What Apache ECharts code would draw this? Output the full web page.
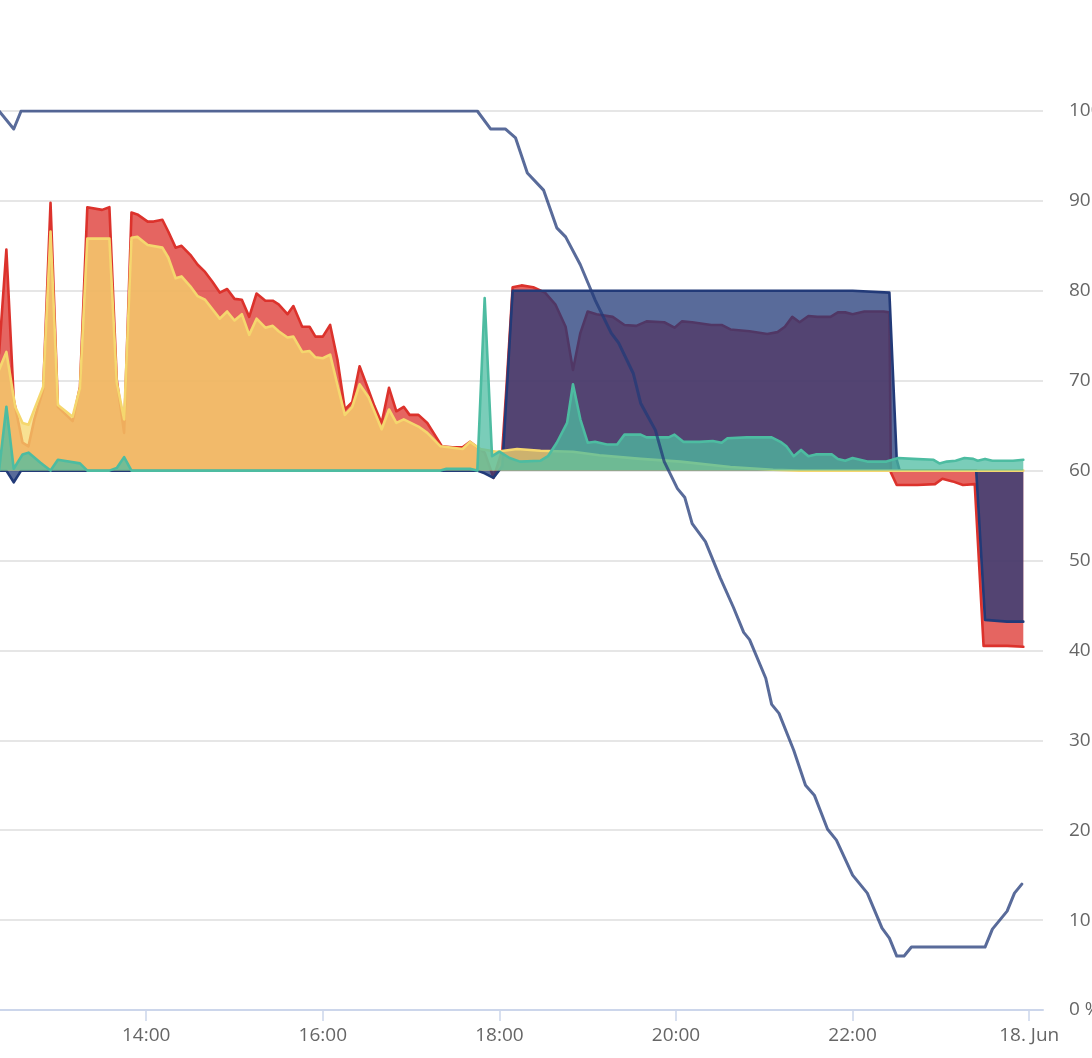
<!DOCTYPE html>
<html>
<head>
<meta charset="utf-8">
<script src="https://cdn.jsdelivr.net/npm/echarts@6/dist/echarts.min.js"></script>
<style>
html,body{margin:0;padding:0;background:#ffffff;overflow:hidden;width:1092px;height:1058px;}
#chart{width:1140px;height:1058px;}
</style>
</head>
<body>
<div id="chart"></div>
<script>
// ---- tick labels of the time axis ----
const tickTimes  = ['14:00','16:00','18:00','20:00','22:00','24:00'];
const tickLabels = ['14:00','16:00','18:00','20:00','22:00','18. Jun'];

// ---- state of charge (%), right percent axis ----
const socTimes  = ['12:20','12:30','12:35','17:45','17:54','18:04','18:11','18:19','18:30','18:39','18:45','18:55','19:05','19:16','19:21','19:31','19:36','19:41','19:46','19:52','20:01','20:06','20:11','20:20','20:30','20:39','20:46','20:50','21:01','21:05','21:10','21:20','21:28','21:34','21:43','21:49','22:00','22:10','22:20','22:25','22:30','22:35','22:40','23:30','23:35','23:45','23:50','23:55'];
const socValues = [100,98,100,100,98,98,97,93.1,91.2,87,86,82.9,79,75.3,74.2,70.8,67.5,66,64.5,61,58,57,54.1,52.1,48.1,44.8,42,41.2,36.9,34,33,28.9,25,23.9,20.1,18.9,15,13,9.1,8,6,6,7,7,9,11,13,14];

// ---- power series (kW, hidden axis, zero at 60 %) ----
const redTimes  = ['12:20','12:25','12:30','12:36','12:40','12:44','12:50','12:55','13:00','13:10','13:15','13:20','13:30','13:35','13:40','13:45','13:50','13:54','14:01','14:05','14:11','14:15','14:20','14:24','14:30','14:35','14:40','14:45','14:50','14:55','15:00','15:05','15:10','15:15','15:21','15:26','15:30','15:36','15:40','15:46','15:51','15:55','16:00','16:05','16:10','16:15','16:20','16:25','16:31','16:35','16:40','16:45','16:50','16:55','16:59','17:05','17:11','17:16','17:21','17:28','17:35','17:40','17:45','17:50','17:56','18:02','18:05','18:09','18:15','18:23','18:31','18:38','18:45','18:50','18:55','19:00','19:06','19:17','19:25','19:33','19:40','19:52','19:59','20:04','20:11','20:24','20:31','20:37','20:50','21:02','21:09','21:14','21:19','21:24','21:30','21:36','21:45','21:50','21:55','22:00','22:08','22:21','22:25','22:26','22:30','22:44','22:56','23:01','23:08','23:15','23:23','23:29','23:45','23:56'];
const redValues = [1.30,2.46,0.79,0.31,0.27,0.57,0.90,2.98,0.71,0.55,0.93,2.93,2.90,2.93,1.01,0.42,2.87,2.85,2.77,2.77,2.79,2.66,2.48,2.50,2.40,2.29,2.21,2.10,1.98,2.02,1.91,1.90,1.71,1.97,1.89,1.89,1.85,1.74,1.83,1.60,1.60,1.49,1.49,1.62,1.23,0.68,0.76,1.16,0.90,0.72,0.53,0.92,0.66,0.71,0.62,0.62,0.53,0.40,0.27,0.26,0.26,0.32,0.26,0.20,-0.08,0.23,0.98,2.04,2.06,2.04,1.98,1.85,1.60,1.12,1.53,1.77,1.74,1.71,1.62,1.61,1.66,1.65,1.59,1.66,1.65,1.62,1.62,1.57,1.55,1.52,1.54,1.60,1.71,1.65,1.72,1.71,1.71,1.76,1.76,1.74,1.77,1.77,1.76,-0.02,-0.16,-0.16,-0.15,-0.09,-0.12,-0.16,-0.15,-1.95,-1.95,-1.96];

const blueTimes  = ['12:20','12:25','12:30','12:35','17:45','17:50','17:56','18:02','18:09','19:00','20:00','21:00','22:00','22:25','22:30','22:32','23:24','23:30','23:45','23:56'];
const blueValues = [0,0,-0.13,0,0,-0.03,-0.08,0.05,2.0,2.0,2.0,2.0,2.0,1.98,0.12,0,0,-1.66,-1.68,-1.68];

const yellowTimes  = ['12:20','12:25','12:31','12:36','12:40','12:44','12:50','12:55','13:00','13:10','13:15','13:20','13:35','13:40','13:45','13:50','13:54','14:01','14:11','14:15','14:20','14:24','14:30','14:35','14:40','14:50','14:55','15:00','15:05','15:10','15:15','15:21','15:26','15:30','15:36','15:40','15:46','15:51','15:55','16:00','16:05','16:10','16:15','16:20','16:25','16:31','16:40','16:45','16:50','16:55','17:05','17:11','17:20','17:35','17:40','17:47','17:58','18:12','18:28','18:50','19:08','19:36','20:03','20:37','21:06','21:24','23:56'];
const yellowValues = [1.12,1.32,0.71,0.53,0.51,0.68,0.93,2.66,0.73,0.60,0.92,2.58,2.58,0.98,0.57,2.59,2.60,2.51,2.48,2.37,2.14,2.16,2.05,1.94,1.90,1.69,1.77,1.67,1.74,1.51,1.69,1.59,1.61,1.55,1.48,1.49,1.32,1.33,1.26,1.25,1.29,0.95,0.62,0.71,0.96,0.82,0.46,0.68,0.53,0.57,0.49,0.42,0.27,0.24,0.32,0.24,0.21,0.24,0.22,0.21,0.17,0.13,0.10,0.04,0.01,0,0];

const tealTimes  = ['12:20','12:25','12:30','12:36','12:40','12:48','12:55','13:00','13:15','13:20','13:35','13:40','13:45','13:50','17:20','17:24','17:40','17:45','17:50','17:55','18:00','18:07','18:14','18:28','18:33','18:39','18:46','18:50','18:55','19:00','19:05','19:13','19:20','19:25','19:36','19:40','19:55','19:59','20:05','20:16','20:25','20:31','20:35','20:48','21:05','21:11','21:15','21:20','21:25','21:30','21:35','21:46','21:50','21:55','22:00','22:10','22:23','22:31','22:41','22:55','22:59','23:04','23:10','23:16','23:22','23:25','23:30','23:35','23:49','23:56'];
const tealValues = [0,0.71,0.02,0.18,0.20,0.09,0,0.12,0.08,0,0,0.03,0.15,0,0,0.02,0.02,0,1.92,0.16,0.21,0.14,0.10,0.11,0.16,0.31,0.53,0.96,0.57,0.31,0.32,0.29,0.29,0.40,0.40,0.37,0.37,0.40,0.32,0.32,0.33,0.31,0.36,0.37,0.37,0.32,0.27,0.16,0.23,0.16,0.18,0.18,0.13,0.11,0.14,0.10,0.10,0.14,0.13,0.12,0.08,0.10,0.11,0.14,0.13,0.11,0.13,0.11,0.11,0.12];

// ---- colours ----
const RED = '#dc322c', YELLOW = '#f5d76e', TEAL = '#4dbca1', NAVY = '#223a78';

function t(s){ const p = s.split(':').map(Number); return Date.UTC(2023,5,17,p[0],p[1]); }
function pairs(ts, vs){ return ts.map((s,i)=>[t(s), vs[i]]); }

const tickValues = tickTimes.map(t);
const xMin = Date.UTC(2023,5,17,12,20,40);
const xMax = Date.UTC(2023,5,18,0,9,23);

function areaSeries(name, ts, vs, color, z){
  return {
    name: name, type:'line', yAxisIndex:1, xAxisIndex:0, z: z,
    data: pairs(ts, vs), showSymbol:false, symbol:'none',
    lineStyle:{color:color, width:2.6, join:'round', cap:'round'},
    itemStyle:{color:color},
    areaStyle:{color:color, opacity:0.75},
    animation:false
  };
}

const chart = echarts.init(document.getElementById('chart'), null, {renderer:'canvas'});
chart.setOption({
  animation:false,
  backgroundColor:'#ffffff',
  grid:{left:0, right:97, top:111, bottom:48, containLabel:false, outerBoundsMode:'none'},
  xAxis:{
    type:'value', min:xMin, max:xMax,
    axisLine:{show:true, lineStyle:{color:'#ccd6eb', width:2}},
    axisTick:{show:true, length:11, lineStyle:{color:'#ccd6eb', width:1.5}, customValues:tickValues},
    axisLabel:{show:true, customValues:tickValues, color:'#666666', fontSize:19, fontFamily:'Open Sans', margin:16,
      formatter:function(v){ const i = tickValues.indexOf(v); return i>=0 ? tickLabels[i] : ''; }},
    splitLine:{show:false}
  },
  yAxis:[
    {type:'value', position:'right', offset:26, min:0, max:100, interval:10,
     axisLine:{show:false}, axisTick:{show:false},
     axisLabel:{formatter:'{value} %', color:'#666666', fontSize:19, fontFamily:'Open Sans', margin:0, align:'left'},
     splitLine:{show:true, lineStyle:{color:'#e6e6e6', width:2}}},
    {type:'value', show:false, min:-6, max:4, splitLine:{show:false}}
  ],
  series:[
    areaSeries('red', redTimes, redValues, RED, 2),
    areaSeries('blue', blueTimes, blueValues, NAVY, 3),
    areaSeries('yellow', yellowTimes, yellowValues, YELLOW, 4),
    areaSeries('teal', tealTimes, tealValues, TEAL, 5),
    {name:'soc', type:'line', yAxisIndex:0, z:6, data:pairs(socTimes, socValues), showSymbol:false, symbol:'none',
     lineStyle:{color:NAVY, width:3, opacity:0.75, join:'round', cap:'round'}, animation:false}
  ]
});
</script>
</body>
</html>
